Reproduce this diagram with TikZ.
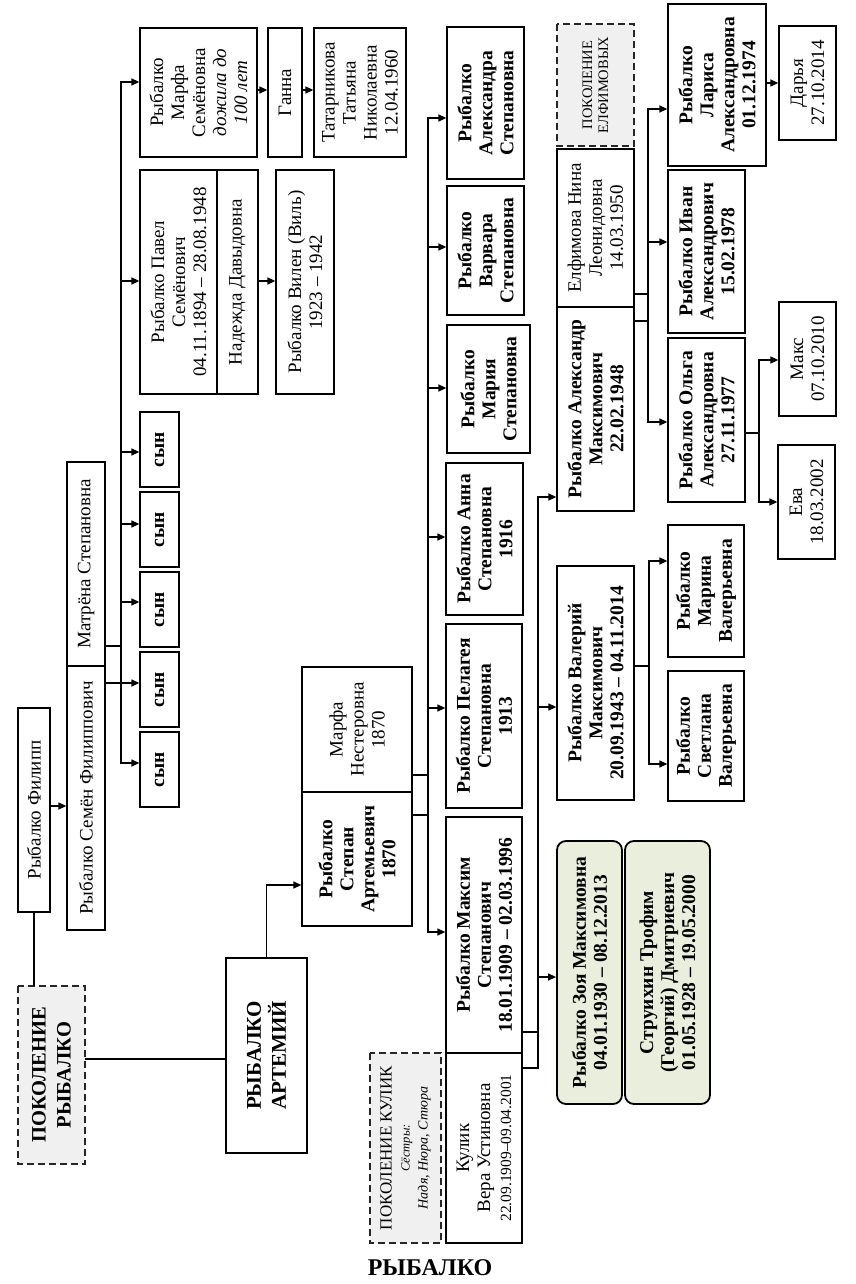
\documentclass[tikz,border=0pt]{standalone}
\usepackage{fontspec}
\setmainfont{Liberation Serif}
\usetikzlibrary{arrows.meta,calc}
\definecolor{grnfill}{HTML}{EAEEDD}
\definecolor{genfill}{HTML}{F0F0F0}
\newcommand\myN{\fontsize{19}{21}\selectfont}
\newcommand\myB{\fontsize{19.5}{21}\selectfont\bfseries}
\newcommand\rbox[7]{%
  \pgfmathsetmacro\rbcx{(#3+#5)/2}%
  \pgfmathsetmacro\rbcy{(#4+#6)/2}%
  \pgfmathsetmacro\rbw{#6-#4}%
  \pgfmathsetmacro\rbh{#5-#3}%
  \node[#2, minimum width=\rbw pt, minimum height=\rbh pt] (#1) at (\rbcx,\rbcy) {#7};}
\tikzset{
  bx/.style={draw, line width=1.3pt, rotate=90, align=center, inner sep=0pt, font=\myN},
  bb/.style={bx, font=\myB},
  genbox/.style={bx, draw=black!85, dash pattern=on 7pt off 4pt, line width=1.2pt, fill=genfill},
  grnbox/.style={bx, font=\myB, rounded corners=9pt, fill=grnfill, line width=1.8pt},
  ln/.style={line width=1.3pt, line cap=rect},
  arr/.style={line width=1.3pt, -{Triangle[length=8pt,width=7pt]}},
}
\begin{document}
\begin{tikzpicture}[x=1pt,y=-1pt]
\useasboundingbox (0,0) rectangle (856,1284);
% ---- Семён branch
\rbox{filipp}{bx}{18}{708}{50}{912}{Рыбалко Филипп}
\rbox{matrena}{bx}{67}{462}{105}{666}{Матрёна Степановна}
\rbox{semen}{bx}{67}{666}{105}{930}{Рыбалко Семён Филиппович}
\rbox{sonA}{bb}{140}{412}{179}{487}{сын}
\rbox{sonB}{bb}{140}{492}{179}{567}{сын}
\rbox{sonC}{bb}{140}{572}{179}{647}{сын}
\rbox{sonD}{bb}{140}{652}{179}{727}{сын}
\rbox{sonE}{bb}{140}{732}{179}{807}{сын}
\rbox{pavel}{bx}{140}{170}{217}{394}{Рыбалко Павел\\Семёнович\\04.11.1894 – 28.08.1948}
\rbox{nadezhda}{bx}{217}{170}{258}{394}{Надежда Давыдовна}
\rbox{marfaS}{bx}{140}{28}{257}{157}{Рыбалко\\Марфа\\Семёновна\\\textit{дожила до}\\\textit{100 лет}}
\rbox{ganna}{bx}{268}{28}{302}{157}{Ганна}
\rbox{tatar}{bx}{314}{28}{406}{157}{Татарникова\\Татьяна\\Николаевна\\12.04.1960}
\rbox{vilen}{bx}{276}{170}{334}{394}{Рыбалко Вилен (Виль)\\1923 – 1942}
% ---- generations
\rbox{genR}{genbox, font=\fontsize{20.5}{25}\selectfont\bfseries}{18}{986}{85}{1164}{ПОКОЛЕНИЕ\\РЫБАЛКО}
\rbox{artemiy}{bx, font=\fontsize{21}{25}\selectfont\bfseries}{226}{958}{307}{1153}{РЫБАЛКО\\АРТЕМИЙ}
\rbox{marfaN}{bx}{302}{667}{412}{792}{Марфа\\Нестеровна\\1870}
\rbox{stepan}{bb}{302}{792}{412}{926}{Рыбалко\\Степан\\Артемьевич\\1870}
% ---- Степан's children
\rbox{alexandra}{bb}{447}{27}{524}{179}{Рыбалко\\Александра\\Степановна}
\rbox{varvara}{bb}{447}{186}{524}{315}{Рыбалко\\Варвара\\Степановна}
\rbox{maria}{bb}{447}{325}{530}{453}{Рыбалко\\Мария\\Степановна}
\rbox{anna}{bb}{446}{463}{523}{615}{Рыбалко Анна\\Степановна\\1916}
\rbox{pelageya}{bb}{446}{624}{522}{808}{Рыбалко Пелагея\\Степановна\\1913}
\rbox{maxim}{bb}{446}{817}{522}{1053}{Рыбалко Максим\\Степанович\\18.01.1909 – 02.03.1996}
\rbox{kulik}{bx}{446}{1053}{522}{1243}{Кулик\\Вера Устиновна\\{\fontsize{15.5}{18}\selectfont 22.09.1909–09.04.2001}}
\rbox{genK}{genbox, font=\fontsize{17}{18}\selectfont}{370}{1053}{441}{1243}{ПОКОЛЕНИЕ КУЛИК\\{\fontsize{12.5}{15}\selectfont\itshape Сёстры:}\\{\fontsize{14}{17}\selectfont\itshape Надя, Нюра, Стюра}}
% ---- Максим's children
\rbox{zoya}{grnbox}{557}{841}{622}{1104}{Рыбалко Зоя Максимовна\\04.01.1930 – 08.12.2013}
\rbox{struikhin}{grnbox}{625}{841}{710}{1104}{Струихин Трофим\\(Георгий) Дмитриевич\\01.05.1928 – 19.05.2000}
\rbox{valeriy}{bb}{557}{566}{634}{800}{Рыбалко Валерий\\Максимович\\20.09.1943 – 04.11.2014}
\rbox{alexandr}{bb}{557}{307}{634}{511}{Рыбалко Александр\\Максимович\\22.02.1948}
\rbox{elfimova}{bx}{557}{149}{634}{307}{Елфимова Нина\\Леонидовна\\14.03.1950}
\rbox{genE}{genbox, font=\fontsize{14.5}{16}\selectfont}{557}{24}{634}{146}{ПОКОЛЕНИЕ\\ЕЛФИМОВЫХ}
% ---- grandchildren
\rbox{svetlana}{bb}{668}{671}{744}{801}{Рыбалко\\Светлана\\Валерьевна}
\rbox{marina}{bb}{668}{525}{744}{657}{Рыбалко\\Марина\\Валерьевна}
\rbox{olga}{bb}{668}{338}{745}{502}{Рыбалко Ольга\\Александровна\\27.11.1977}
\rbox{ivan}{bb}{668}{170}{745}{333}{Рыбалко Иван\\Александрович\\15.02.1978}
\rbox{larisa}{bb}{668}{4}{766}{166}{Рыбалко\\Лариса\\Александровна\\01.12.1974}
\rbox{eva}{bx}{778}{445}{835}{559}{Ева\\18.03.2002}
\rbox{maks}{bx}{779}{302}{836}{416}{Макс\\07.10.2010}
\rbox{darya}{bx}{779}{26}{836}{140}{Дарья\\27.10.2014}
% ---- title
\node[font=\fontsize{24}{28}\selectfont\bfseries] (title) at (430,1268) {РЫБАЛКО};

% ===== connectors
\coordinate (trunk) at (121,0);
\draw[ln] (matrena.south |- 0,646) -- (trunk |- 0,646);
\draw[ln] (trunk |- 0,82) -- (trunk |- 0,763);
\draw[arr] (semen.south |- 0,683) -- (sonD.north |- 0,683);
\draw[arr] (trunk |- 0,82) -- (marfaS.north |- 0,82);
\draw[arr] (trunk |- 0,281) -- (pavel.north |- 0,281);
\draw[arr] (trunk |- 0,452) -- (sonA.north |- 0,452);
\draw[arr] (trunk |- 0,524) -- (sonB.north |- 0,524);
\draw[arr] (trunk |- 0,602) -- (sonC.north |- 0,602);
\draw[arr] (trunk |- 0,763) -- (sonE.north |- 0,763);
\draw[arr] (marfaS.south |- 0,90) -- (ganna.north |- 0,90);
\draw[arr] (ganna.south |- 0,90) -- (tatar.north |- 0,90);
\draw[arr] (nadezhda.south |- 0,281) -- (vilen.north |- 0,281);

\draw[arr] (filipp.south |- 0,806) -- (semen.north |- 0,806);
\draw[ln] (filipp.west) -- (filipp.west |- genR.east);
\draw[ln] (genR.south |- 0,1059) -- (artemiy.north |- 0,1059);
\draw[arr] (artemiy.east) |- (stepan.north |- 0,885);

\coordinate (busS) at (428,0);
\draw[ln] (marfaN.south |- 0,775) -- (busS |- 0,775);
\draw[ln] (stepan.south |- 0,815) -- (busS |- 0,815);
\draw[ln] (busS |- 0,118) -- (busS |- 0,932);
\draw[arr] (busS |- 0,118) -- (alexandra.north |- 0,118);
\draw[arr] (busS |- 0,247) -- (varvara.north |- 0,247);
\draw[arr] (busS |- 0,388) -- (maria.north |- 0,388);
\draw[arr] (busS |- 0,537) -- (anna.north |- 0,537);
\draw[arr] (busS |- 0,708) -- (pelageya.north |- 0,708);
\draw[arr] (busS |- 0,932) -- (maxim.north |- 0,932);

\coordinate (busM) at (538,0);
\draw[ln] (maxim.south |- 0,1032) -- (busM |- 0,1032);
\draw[ln] (kulik.south |- 0,1068) -- (busM |- 0,1068);
\draw[ln] (busM |- 0,497) -- (busM |- 0,1068);
\draw[arr] (busM |- 0,497) -- (alexandr.north |- 0,497);
\draw[arr] (busM |- 0,707) -- (valeriy.north |- 0,707);
\draw[arr] (busM |- 0,977) -- (zoya.north |- 0,977);

\coordinate (busA) at (648,0);
\draw[ln] (elfimova.south |- 0,294) -- (busA |- 0,294);
\draw[ln] (alexandr.south |- 0,321) -- (busA |- 0,321);
\draw[ln] (busA |- 0,109) -- (busA |- 0,422);
\draw[arr] (busA |- 0,109) -- (larisa.north |- 0,109);
\draw[arr] (busA |- 0,242) -- (ivan.north |- 0,242);
\draw[arr] (busA |- 0,422) -- (olga.north |- 0,422);

\coordinate (busV) at (649,0);
\draw[ln] (valeriy.south |- 0,666) -- (busV |- 0,666);
\draw[ln] (busV |- 0,561) -- (busV |- 0,764);
\draw[arr] (busV |- 0,561) -- (marina.north |- 0,561);
\draw[arr] (busV |- 0,764) -- (svetlana.north |- 0,764);

\draw[arr] (larisa.south |- 0,83) -- (darya.north |- 0,83);

\coordinate (busO) at (759,0);
\draw[ln] (olga.south |- 0,433) -- (busO |- 0,433);
\draw[ln] (busO |- 0,360) -- (busO |- 0,502);
\draw[arr] (busO |- 0,360) -- (maks.north |- 0,360);
\draw[arr] (busO |- 0,502) -- (eva.north |- 0,502);
\end{tikzpicture}
\end{document}
